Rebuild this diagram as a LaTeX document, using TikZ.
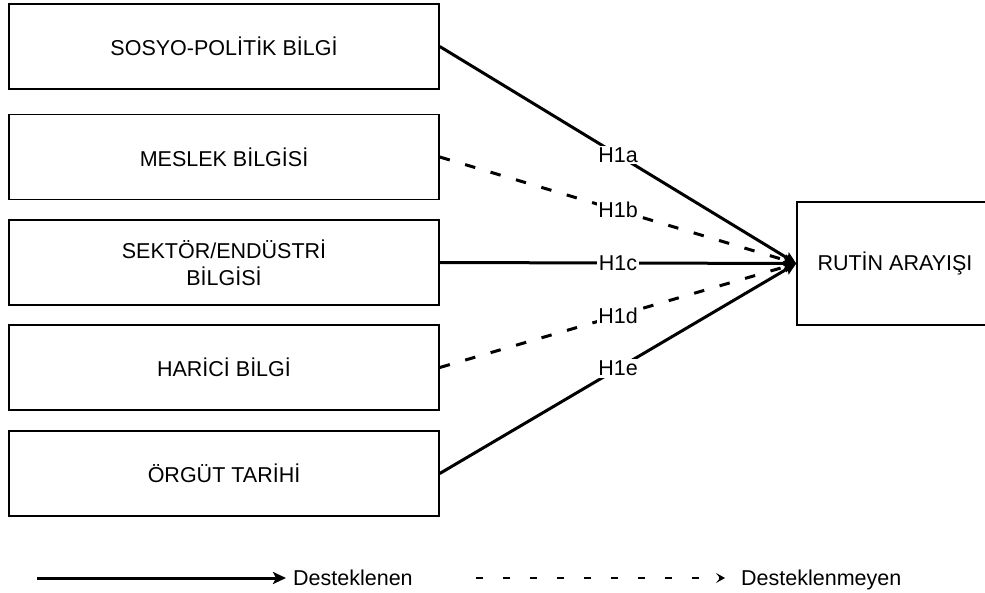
\documentclass[tikz,border=0pt]{standalone}
\usepackage{fontspec}
\setmainfont{Liberation Sans}
\usetikzlibrary{arrows.meta}
\begin{document}
\begin{tikzpicture}[x=1pt,y=-1pt,
  every node/.style={font=\fontsize{21.5}{27}\selectfont},
  factor/.style={draw=black, line width=1.5pt, minimum width=430pt, minimum height=85pt, align=center, inner sep=0pt},
  target/.style={draw=black, line width=1.5pt, minimum width=196pt, minimum height=123pt, inner sep=0pt},
  link/.style={line width=3pt, -{Stealth[length=12pt,width=11pt,inset=2pt]}},
  weak/.style={link, dash pattern=on 10.5pt off 16pt},
  hyp/.style={fill=white, inner sep=1.5pt, pos=0.5}
]
\useasboundingbox (0,0) rectangle (985,593);

% knowledge sources
\node[factor] (sp) at (224,46.5)  {SOSYO-POLİTİK BİLGİ};
\node[factor] (mb) at (224,157)   {MESLEK BİLGİSİ};
\node[factor] (se) at (224,262.5) {SEKTÖR/ENDÜSTRİ\\BİLGİSİ};
\node[factor] (hb) at (224,367.5) {HARİCİ BİLGİ};
\node[factor] (ot) at (224,473.5) {ÖRGÜT TARİHİ};

% outcome
\node[target] (ra) at (895,263.5) {RUTİN ARAYIŞI};

% hypotheses
\draw[link] (sp.east) -- node[hyp] {H1a} (ra.west);
\draw[weak] (mb.east) -- node[hyp] {H1b} (ra.west);
\draw[link] (se.east) -- node[hyp] {H1c} (ra.west);
\draw[weak] (hb.east) -- node[hyp] {H1d} (ra.west);
\draw[link] (ot.east) -- node[hyp] {H1e} (ra.west);

% legend
\coordinate (s0) at (37,578);
\coordinate (s1) at (286,578);
\coordinate (d0) at (476,578);
\coordinate (d1) at (725,578);
\draw[line width=3pt, -{Stealth[length=13pt,width=12pt,inset=3pt]}] (s0) -- (s1);
\node[anchor=base west, inner sep=0pt] (ls) at (293,585) {Desteklenen};
\draw[line width=1.5pt, dash pattern=on 7pt off 20pt, -{Stealth[length=9pt,width=10pt,inset=4pt]}] (d0) -- (d1);
\node[anchor=base west, inner sep=0pt] (lw) at (741,585) {Desteklenmeyen};
\end{tikzpicture}
\end{document}
